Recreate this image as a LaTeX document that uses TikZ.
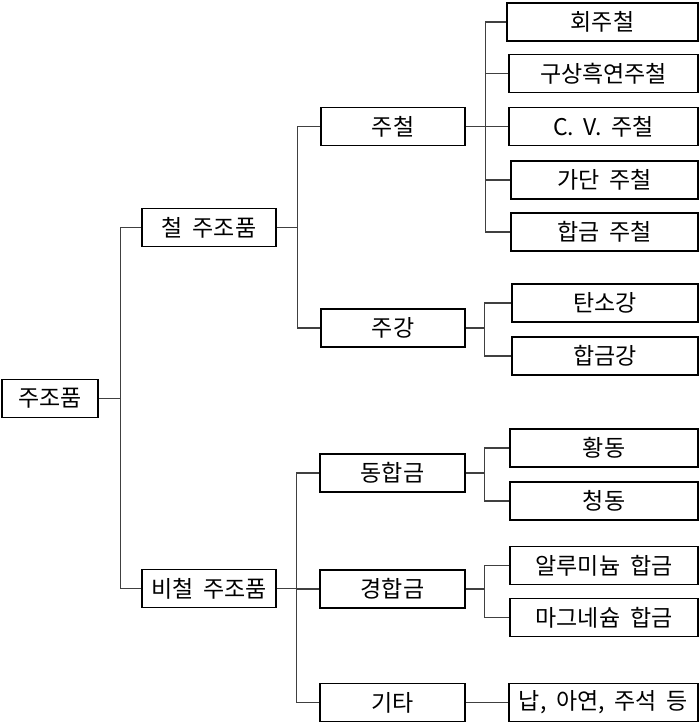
\documentclass[tikz,border=0pt]{standalone}
\usepackage{fontspec}
\setmainfont[WordSpace=1.9]{Noto Sans CJK KR}
\begin{document}
\begin{tikzpicture}[x=1pt,y=-1pt,
  box/.style={draw=black,line width=1.5pt,rectangle,inner sep=0pt,minimum height=38pt,
    font=\fontsize{23}{27}\selectfont,fill=white},
  link/.style={draw=black!75,line width=1.1pt}]
\useasboundingbox (0,0) rectangle (700,725);
% root and level 1
\node[box,minimum width=96pt]  (root) at (50,398.5) {주조품};
\node[box,minimum width=134pt] (fe)   at (209,227.5) {철 주조품};
\node[box,minimum width=134pt] (nfe)  at (209,588.5) {비철 주조품};
% level 2
\node[box,minimum width=144pt] (ci)   at (393,126.5) {주철};
\node[box,minimum width=144pt] (cs)   at (393,328) {주강};
\node[box,minimum width=145pt] (cu)   at (392.5,473) {동합금};
\node[box,minimum width=145pt] (la)   at (392.5,589) {경합금};
\node[box,minimum width=145pt] (etc)  at (392.5,702.5) {기타};
% level 3
\node[box,minimum width=191pt] (gray) at (602.5,22) {회주철};
\node[box,minimum width=189pt] (nod)  at (603.5,73.5) {구상흑연주철};
\node[box,minimum width=189pt] (cv)   at (603.5,126.5) {C. V. 주철};
\node[box,minimum width=187pt] (mal)  at (604.5,180) {가단 주철};
\node[box,minimum width=187pt] (aci)  at (604.5,232) {합금 주철};
\node[box,minimum width=186pt] (cst)  at (605,303) {탄소강};
\node[box,minimum width=186pt] (ast)  at (605,356) {합금강};
\node[box,minimum width=188pt] (brs)  at (604,448) {황동};
\node[box,minimum width=188pt] (brz)  at (604,501) {청동};
\node[box,minimum width=188pt] (al)   at (604,565.5) {알루미늄 합금};
\node[box,minimum width=188pt] (mg)   at (604,617.5) {마그네슘 합금};
\node[box,minimum width=189pt] (pb)   at (603.5,702.5) {납, 아연, 주석 등};
% connectors
\draw[link] (root.east) -- ++(22,0) coordinate (r1);
\draw[link] (r1) |- (fe.west);
\draw[link] (r1) |- (nfe.west);
\draw[link] (fe.east) -- ++(21,0) coordinate (f1);
\draw[link] (f1) |- (ci.west);
\draw[link] (f1) |- (cs.west);
\draw[link] (nfe.east) -- ++(20,0) coordinate (n1);
\draw[link] (n1) |- (cu.west);
\draw[link] (n1) |- (la.west);
\draw[link] (n1) |- (etc.west);
\draw[link] (ci.east) -- ++(20,0) coordinate (c1);
\foreach \t in {gray,nod,cv,mal,aci} \draw[link] (c1) |- (\t.west);
\draw[link] (cs.east) -- ++(19,0) coordinate (s1);
\foreach \t in {cst,ast} \draw[link] (s1) |- (\t.west);
\draw[link] (cu.east) -- ++(19,0) coordinate (u1);
\foreach \t in {brs,brz} \draw[link] (u1) |- (\t.west);
\draw[link] (la.east) -- ++(19,0) coordinate (l1);
\foreach \t in {al,mg} \draw[link] (l1) |- (\t.west);
\draw[link] (etc.east) -- (pb.west);
\end{tikzpicture}
\end{document}
